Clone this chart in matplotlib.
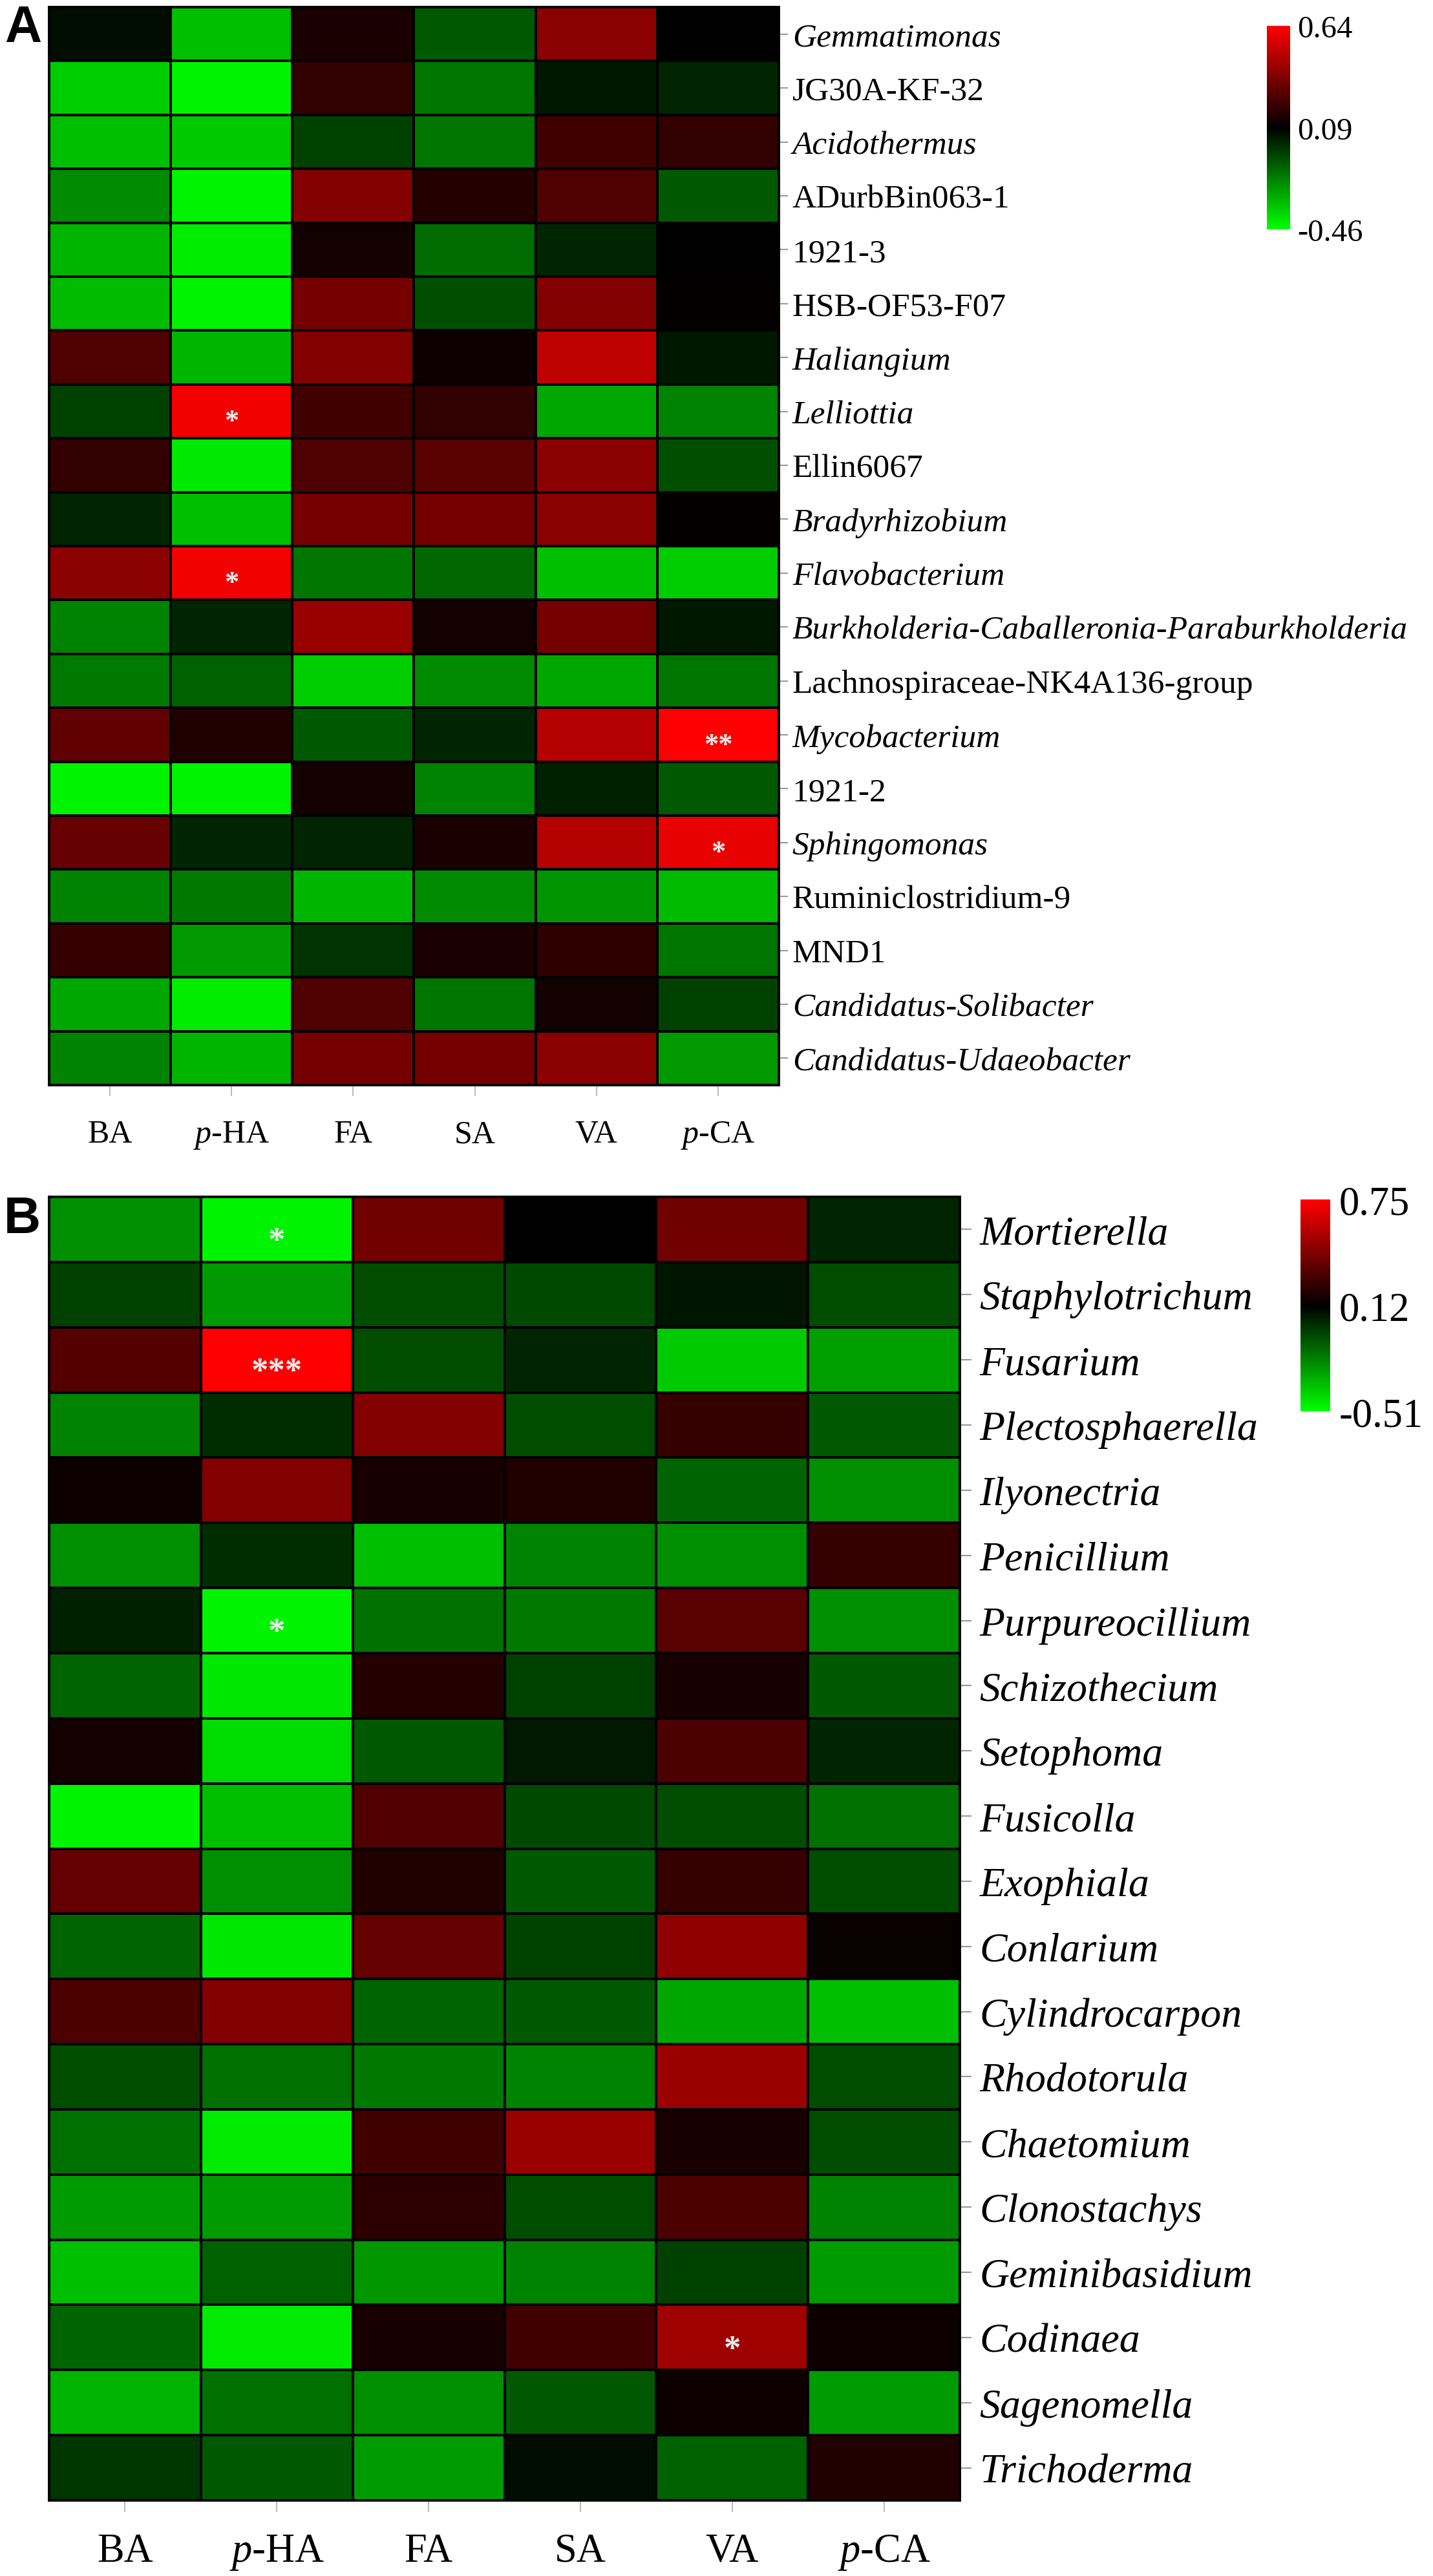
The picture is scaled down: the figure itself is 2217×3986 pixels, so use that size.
import numpy as np
import matplotlib
matplotlib.use("Agg")
import matplotlib.pyplot as plt
from matplotlib.colors import LinearSegmentedColormap

plt.rcParams['font.family'] = ['Liberation Serif', 'DejaVu Serif']
plt.rcParams['mathtext.fontset'] = 'custom'
plt.rcParams['mathtext.rm'] = 'Liberation Serif'
plt.rcParams['mathtext.it'] = 'Liberation Serif:italic'

# ---- data ----
acids = ['BA', r'$\it{p}$-HA', 'FA', 'SA', 'VA', r'$\it{p}$-CA']

bact_genera = ['Gemmatimonas', 'JG30A-KF-32', 'Acidothermus', 'ADurbBin063-1', '1921-3',
               'HSB-OF53-F07', 'Haliangium', 'Lelliottia', 'Ellin6067', 'Bradyrhizobium',
               'Flavobacterium', 'Burkholderia-Caballeronia-Paraburkholderia',
               'Lachnospiraceae-NK4A136-group', 'Mycobacterium', '1921-2', 'Sphingomonas',
               'Ruminiclostridium-9', 'MND1', 'Candidatus-Solibacter', 'Candidatus-Udaeobacter']
bact_italic = [1, 0, 1, 0, 0, 0, 1, 1, 0, 1, 1, 1, 0, 1, 0, 1, 0, 0, 1, 1]
bact_r = [
    [0.06, -0.32, 0.15, -0.10, 0.39, 0.09],
    [-0.35, -0.43, 0.20, -0.16, 0.04, 0.01],
    [-0.32, -0.34, -0.05, -0.16, 0.23, 0.20],
    [-0.21, -0.43, 0.37, 0.17, 0.26, -0.10],
    [-0.30, -0.42, 0.13, -0.14, 0.01, 0.09],
    [-0.31, -0.43, 0.34, -0.08, 0.37, 0.10],
    [0.26, -0.30, 0.37, 0.12, 0.50, 0.04],
    [-0.05, 0.61, 0.23, 0.20, -0.27, -0.19],
    [0.20, -0.41, 0.26, 0.28, 0.39, -0.08],
    [0.01, -0.32, 0.34, 0.34, 0.39, 0.10],
    [0.39, 0.61, -0.16, -0.13, -0.32, -0.35],
    [-0.19, 0.01, 0.42, 0.13, 0.34, 0.04],
    [-0.17, -0.12, -0.35, -0.21, -0.27, -0.16],
    [0.30, 0.16, -0.10, 0.01, 0.48, 0.64],
    [-0.43, -0.43, 0.13, -0.19, 0.02, -0.10],
    [0.31, 0.01, 0.01, 0.15, 0.48, 0.59],
    [-0.19, -0.17, -0.30, -0.21, -0.23, -0.31],
    [0.21, -0.24, -0.02, 0.15, 0.19, -0.16],
    [-0.27, -0.42, 0.26, -0.16, 0.13, -0.05],
    [-0.19, -0.30, 0.34, 0.34, 0.39, -0.24],
]
# (row, col, stars)
bact_sig = [(7, 1, '*'), (10, 1, '*'), (13, 5, '**'), (15, 5, '*')]
bact_ticks = [-0.46, 0.09, 0.64]

fungi_genera = ['Mortierella', 'Staphylotrichum', 'Fusarium', 'Plectosphaerella', 'Ilyonectria',
                'Penicillium', 'Purpureocillium', 'Schizothecium', 'Setophoma', 'Fusicolla',
                'Exophiala', 'Conlarium', 'Cylindrocarpon', 'Rhodotorula', 'Chaetomium',
                'Clonostachys', 'Geminibasidium', 'Codinaea', 'Sagenomella', 'Trichoderma']
fungi_r = [
    [-0.23, -0.48, 0.40, 0.12, 0.40, 0.03],
    [-0.04, -0.26, -0.07, -0.06, 0.07, -0.07],
    [0.33, 0.75, -0.07, 0.03, -0.38, -0.27],
    [-0.20, 0.01, 0.44, -0.07, 0.25, -0.10],
    [0.15, 0.44, 0.18, 0.20, -0.13, -0.23],
    [-0.23, 0.01, -0.35, -0.20, -0.23, 0.25],
    [0.04, -0.48, -0.16, -0.18, 0.34, -0.23],
    [-0.13, -0.45, 0.21, -0.04, 0.18, -0.10],
    [0.17, -0.42, -0.10, 0.06, 0.31, 0.03],
    [-0.48, -0.35, 0.32, -0.06, -0.07, -0.16],
    [0.37, -0.23, 0.20, -0.10, 0.25, -0.07],
    [-0.13, -0.45, 0.37, -0.04, 0.47, 0.14],
    [0.31, 0.44, -0.13, -0.10, -0.29, -0.35],
    [-0.07, -0.16, -0.18, -0.20, 0.50, -0.07],
    [-0.16, -0.46, 0.28, 0.50, 0.18, -0.07],
    [-0.26, -0.26, 0.23, -0.07, 0.31, -0.20],
    [-0.35, -0.12, -0.25, -0.20, -0.04, -0.26],
    [-0.13, -0.46, 0.18, 0.28, 0.51, 0.15],
    [-0.32, -0.16, -0.23, -0.10, 0.15, -0.26],
    [-0.01, -0.10, -0.26, 0.09, -0.12, 0.20],
]
fungi_sig = [(0, 1, '*'), (2, 1, '***'), (6, 1, '*'), (17, 4, '*')]
fungi_ticks = [-0.51, 0.12, 0.75]

cmap = LinearSegmentedColormap.from_list('gkr', ['#00ff00', '#000000', '#ff0000'])

W, H = 2217, 3987
fig = plt.figure(figsize=(W / 100, H / 100), dpi=100)


def px_box(x0, y0, x1, y1):
    return [x0 / W, 1 - y1 / H, (x1 - x0) / W, (y1 - y0) / H]


def draw_panel(box, cbox, data, rows, italic, sig, ticks, fs_y, fs_x, fs_c, fs_star,
               ylen, ypad, xlen, xpad, cpad):
    ax = fig.add_axes(px_box(*box))
    data = np.array(data)
    mesh = ax.pcolormesh(data, cmap=cmap, vmin=ticks[0], vmax=ticks[2],
                         edgecolors='black', linewidth=2.8)
    ax.set_xlim(0, data.shape[1])
    ax.set_ylim(data.shape[0], 0)
    for s in ax.spines.values():
        s.set_linewidth(2.8)
        s.set_color('black')
    ax.yaxis.tick_right()
    ax.set_yticks(np.arange(len(rows)) + 0.5)
    ax.set_yticklabels(rows, fontsize=fs_y)
    for lab, it in zip(ax.get_yticklabels(), italic):
        lab.set_style('italic' if it else 'normal')
    ax.set_xticks(np.arange(len(acids)) + 0.5)
    ax.set_xticklabels(acids, fontsize=fs_x)
    ax.tick_params(axis='y', length=ylen, width=1.5, color='#9a9a9a', pad=ypad)
    ax.tick_params(axis='x', length=xlen, width=1.5, color='#bdbdbd', pad=xpad)
    for r, c, st in sig:
        ax.annotate(st, (c + 0.5, r + 0.5), xytext=(0, -0.6 * fs_star),
                    textcoords='offset points', ha='center', va='baseline',
                    color='#eeeeee', fontsize=fs_star, fontweight='bold')

    cax = fig.add_axes(px_box(*cbox))
    cb = fig.colorbar(mesh, cax=cax)
    cb.outline.set_visible(False)
    cb.set_ticks(ticks)
    cb.set_ticklabels(['%.2f' % t for t in ticks])
    cax.tick_params(length=0, pad=cpad, labelsize=fs_c)
    return ax


draw_panel((76, 12, 1205, 1680), (1960, 41, 1996, 356), bact_r, bact_genera, bact_italic,
           bact_sig, bact_ticks, fs_y=37, fs_x=36, fs_c=35, fs_star=32,
           ylen=10, ypad=5, xlen=12, xpad=26, cpad=8)
draw_panel((76, 1853, 1485, 3870), (2012, 1857, 2058, 2185), fungi_r, fungi_genera,
           [1] * len(fungi_genera), fungi_sig, fungi_ticks, fs_y=46, fs_x=45, fs_c=45,
           fs_star=38, ylen=13, ypad=9, xlen=13, xpad=23, cpad=10)

fig.text(7 / W, 1 - 65 / H, 'A', fontsize=57, fontweight='bold', family='Liberation Sans',
         va='baseline', ha='left')
fig.text(6 / W, 1 - 1908 / H, 'B', fontsize=57, fontweight='bold', family='Liberation Sans',
         va='baseline', ha='left')

fig.savefig('out.png', dpi=100, facecolor='white')
